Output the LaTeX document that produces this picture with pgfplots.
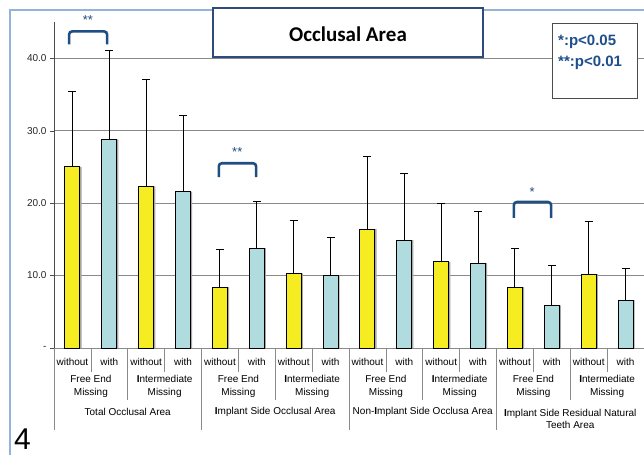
\documentclass[border=0pt]{standalone}
\usepackage{pgfplots}
\pgfplotsset{compat=1.18}
\usepackage{fontspec}
\setmainfont{Liberation Sans}
\newfontfamily\carlito{Carlito}
\definecolor{baryel}{HTML}{F6EC22}
\definecolor{barblu}{HTML}{B0DCE0}
\definecolor{brk}{HTML}{1F4E84}
\definecolor{slideframe}{HTML}{95B3D7}
\definecolor{gridc}{HTML}{8A8A8A}
\definecolor{titlebd}{HTML}{2F4B7C}
\definecolor{legtxt}{HTML}{1F4E8C}
\pgfplotstableread{
x y e
0 25.0 10.4
2 22.3 14.8
4 8.4 5.2
6 10.3 7.3
8 16.4 10.1
10 11.9 8.1
12 8.4 5.3
14 10.2 7.3
}\without
\pgfplotstableread{
x y e
1 28.8 12.2
3 21.6 10.5
5 13.8 6.4
7 10.0 5.2
9 14.9 9.2
11 11.7 7.2
13 5.9 5.5
15 6.6 4.4
}\with
\begin{document}
\begin{tikzpicture}[x=1pt,y=1pt]
\path[use as bounding box] (0,0) rectangle (644,455);
\fill[white] (0,0) rectangle (644,455);
\draw[slideframe, line width=1.2pt] (10,0) -- (10,445) -- (644,445);
\begin{axis}[
  at={(54pt,107pt)}, anchor=south west,
  scale only axis, width=590pt, height=326pt,
  xmin=-0.5, xmax=15.5, ymin=0, ymax=45,
  axis x line=bottom, axis y line=left,
  x axis line style={-, gridc, line width=0.8pt},
  y axis line style={-, black!70, line width=0.8pt},
  xtick=\empty,
  ytick={0,10,20,30,40},
  yticklabels={-,10.0,20.0,30.0,40.0},
  yticklabel style={font=\fontsize{10}{12}\selectfont, text=black!85},
  ymajorgrids, grid style={gridc, line width=0.8pt},
  tick align=outside, major tick length=4pt,
  ytick style={black!70},
  clip=false,
]
% shadows
\addplot[ybar, bar width=15pt, bar shift=1.6pt, fill=black!35, draw=none, forget plot]
  table[x=x, y=y] {\without};
\addplot[ybar, bar width=15pt, bar shift=1.6pt, fill=black!35, draw=none, forget plot]
  table[x=x, y=y] {\with};
\addplot[ybar, bar width=15pt, bar shift=0pt, fill=baryel, draw=black, line width=0.9pt,
  error bars/.cd, y dir=plus, y explicit,
  error bar style={black, line width=1pt},
  error mark options={rotate=90, black, mark size=4pt, line width=1pt}]
  table[x=x, y=y, y error=e] {\without};
\addplot[ybar, bar width=15pt, bar shift=0pt, fill=barblu, draw=black, line width=0.9pt,
  error bars/.cd, y dir=plus, y explicit,
  error bar style={black, line width=1pt},
  error mark options={rotate=90, black, mark size=4pt, line width=1pt}]
  table[x=x, y=y, y error=e] {\with};
% significance brackets
\draw[brk, line width=2.6pt, rounded corners=3pt] (axis cs:-0.09,41.9) -- (axis cs:-0.09,43.7) -- (axis cs:0.94,43.7) -- (axis cs:0.94,41.9);
\node[brk, font=\fontsize{13}{14}\selectfont] at (axis cs:0.42,45.3) {**};
\draw[brk, line width=2.6pt, rounded corners=3pt] (axis cs:3.97,23.6) -- (axis cs:3.97,25.5) -- (axis cs:4.98,25.5) -- (axis cs:4.98,23.6);
\node[brk, font=\fontsize{13}{14}\selectfont] at (axis cs:4.47,27.1) {**};
\draw[brk, line width=2.6pt, rounded corners=3pt] (axis cs:11.97,17.95) -- (axis cs:11.97,20.15) -- (axis cs:12.98,20.15) -- (axis cs:12.98,17.95);
\node[brk, font=\fontsize{13}{14}\selectfont] at (axis cs:12.47,21.5) {*};
\end{axis}
% category separators
\foreach \k in {0,...,7} {
  \draw[gridc, line width=0.7pt] ({54+36.875*(2*\k+1)},107) -- ({54+36.875*(2*\k+1)},83);
}
\foreach \g in {0,...,3} {
  \draw[gridc, line width=0.7pt] ({54+147.5*\g+73.75},107) -- ({54+147.5*\g+73.75},55);
}
\foreach \g in {0,...,4} {
  \draw[gridc, line width=0.7pt] ({54+147.5*\g},107) -- ({54+147.5*\g},25);
}
% row 1 labels
\foreach \i in {0,2,...,14} {
  \node[font=\fontsize{10}{12}\selectfont] at ({72.44+36.875*\i},93) {without};
}
\foreach \i in {1,3,...,15} {
  \node[font=\fontsize{10}{12}\selectfont] at ({72.44+36.875*\i},93) {with};
}
% row 2 labels
\foreach \g in {0,...,3} {
  \node[font=\fontsize{10}{12.5}\selectfont, align=center] at ({54+147.5*\g+36.875},68.5) {Free End\\Missing};
  \node[font=\fontsize{10}{12.5}\selectfont, align=center] at ({54+147.5*\g+110.625},68.5) {\textbf{I}ntermediate\\Missing};
}
% row 3 labels
\node[font=\fontsize{10}{12}\selectfont] at (127.75,43) {Total Occlusal Area};
\node[font=\fontsize{10}{12}\selectfont] at (275.25,43) {\textbf{I}mplant Side Occlusal Area};
\node[font=\fontsize{10}{12}\selectfont] at (422.75,43) {Non-\textbf{I}mplant Side Occlusa Area};
\node[font=\fontsize{10}{12}\selectfont, align=center, anchor=north] at (570.25,49.5) {\textbf{I}mplant Side Residual Natural\\Teeth Area};
% title box
\draw[titlebd, line width=1.6pt, fill=white] (213,398) rectangle (483,447);
\node[font=\carlito\bfseries\fontsize{21}{24}\selectfont] at (348,421) {Occlusal Area};
% significance legend box
\draw[black!70, line width=1pt, fill=white] (552,356) rectangle (637,431);
\node[legtxt, font=\bfseries\fontsize{15}{18}\selectfont, anchor=west, inner sep=0pt] at (558,413) {*:p<0.05};
\node[legtxt, font=\bfseries\fontsize{15}{18}\selectfont, anchor=west, inner sep=0pt] at (558,392) {**:p<0.01};
% slide number
\node[font=\fontsize{30}{34}\selectfont, anchor=base west, inner sep=0pt] at (14,6) {4};
\end{tikzpicture}
\end{document}
